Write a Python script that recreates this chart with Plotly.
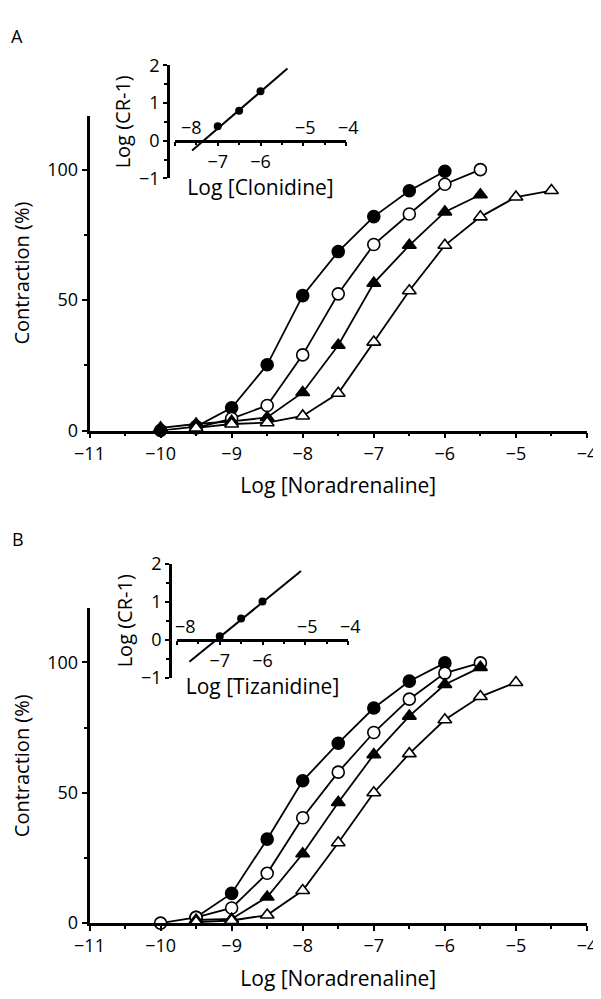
import plotly.graph_objects as go

# ---- data ----
# Panel A: noradrenaline curves (x = log [NA], y = contraction %)
a_ctrl_x = [-10, -9.5, -9, -8.5, -8, -7.5, -7, -6.5, -6]
a_ctrl_y = [0, 1.5, 8.7, 25.2, 51.7, 68.6, 82, 91.9, 99.4]
a_c1_x = [-9.5, -9, -8.5, -8, -7.5, -7, -6.5, -6, -5.5]
a_c1_y = [1, 4.6, 9.6, 29, 52.4, 71.3, 83, 94.4, 100]
a_c2_x = [-10, -9.5, -9, -8.5, -8, -7.5, -7, -6.5, -6, -5.5]
a_c2_y = [1, 2.5, 3.5, 5, 14.6, 32.7, 56.5, 71, 83.8, 90.4]
a_c3_x = [-9.5, -9, -8.5, -8, -7.5, -7, -6.5, -6, -5.5, -5, -4.5]
a_c3_y = [1, 2.5, 3, 5.6, 14.3, 33.9, 53.6, 71, 81.9, 89.5, 92]

# Panel A inset: Schild plot for clonidine
a_schild_x = [-7, -6.5, -6]
a_schild_y = [0.38, 0.79, 1.31]
a_fit_x = [-7.6, -5.37]
a_fit_y = [-0.26, 1.91]

# Panel B: noradrenaline curves
b_ctrl_x = [-9.5, -9, -8.5, -8, -7.5, -7, -6.5, -6]
b_ctrl_y = [2.2, 11.4, 32.2, 54.6, 69, 82.5, 92.8, 99.8]
b_c1_x = [-10, -9.5, -9, -8.5, -8, -7.5, -7, -6.5, -6, -5.5]
b_c1_y = [0, 2.2, 5.8, 19.1, 40.4, 57.9, 73.1, 85.9, 95.9, 99.8]
b_c2_x = [-9.5, -9, -8.5, -8, -7.5, -7, -6.5, -6, -5.5]
b_c2_y = [1.2, 1.6, 10, 26.6, 46.3, 64.6, 79.4, 91.5, 98.1]
b_c3_x = [-9.5, -9, -8.5, -8, -7.5, -7, -6.5, -6, -5.5, -5]
b_c3_y = [0.4, 1, 3.1, 12.5, 30.8, 50, 65, 78, 86.9, 92.3]

# Panel B inset: Schild plot for tizanidine
b_schild_x = [-7, -6.5, -6]
b_schild_y = [0.09, 0.56, 1.01]
b_fit_x = [-7.71, -5.1]
b_fit_y = [-0.58, 1.81]

main_ticks = [-11, -10, -9, -8, -7, -6, -5, -4]
inset_ticks = [-8, -7, -6, -5, -4]
inset_below = ["", "\u22127", "\u22126", "", ""]
inset_above = [(-8, "\u22128"), (-5, "\u22125"), (-4, "\u22124")]

# page body has an 8px margin, so the figure is drawn 8px in from the corner
OFF = 8
W, H = 601 - OFF, 999 - OFF
FONT = "Open Sans"
FS = 18     # tick labels
TFS = 21    # axis titles


def px(x):
    return (x - OFF) / W


def py(y):
    return 1 - (y - OFF) / H


fig = go.Figure()

styles = [
    dict(symbol="circle", color="black"),
    dict(symbol="circle", color="white"),
    dict(symbol="triangle-up", color="black"),
    dict(symbol="triangle-up", color="white"),
]


def add_curves(xs, ys, xa, ya):
    for (x, y), st in zip(zip(xs, ys), styles):
        fig.add_trace(go.Scatter(
            x=x, y=y, mode="lines+markers", xaxis=xa, yaxis=ya,
            line=dict(color="black", width=1.8),
            marker=dict(symbol=st["symbol"], color=st["color"], size=12,
                        line=dict(color="black", width=1.6)),
            cliponaxis=False, showlegend=False))


def add_schild(px_, py_, fx, fy, xa, ya):
    fig.add_trace(go.Scatter(x=fx, y=fy, mode="lines", xaxis=xa, yaxis=ya,
                             line=dict(color="black", width=2),
                             cliponaxis=False, showlegend=False))
    fig.add_trace(go.Scatter(x=px_, y=py_, mode="markers", xaxis=xa, yaxis=ya,
                             marker=dict(color="black", size=8),
                             cliponaxis=False, showlegend=False))


add_curves([a_ctrl_x, a_c1_x, a_c2_x, a_c3_x], [a_ctrl_y, a_c1_y, a_c2_y, a_c3_y], "x", "y")
add_schild(a_schild_x, a_schild_y, a_fit_x, a_fit_y, "x2", "y2")
add_curves([b_ctrl_x, b_c1_x, b_c2_x, b_c3_x], [b_ctrl_y, b_c1_y, b_c2_y, b_c3_y], "x3", "y3")
add_schild(b_schild_x, b_schild_y, b_fit_x, b_fit_y, "x4", "y4")

axis_common = dict(showline=True, linecolor="black", linewidth=2.5, showgrid=False,
                   zeroline=False, ticks="outside", tickcolor="black", tickwidth=2,
                   automargin=False, tickfont=dict(size=FS, color="black"))
minor_half = dict(dtick=0.5, ticks="outside", ticklen=3, tickwidth=2, tickcolor="black")


def main_axes(top, bottom):
    xa = dict(axis_common, range=[-11, -4], tickvals=main_ticks, ticklen=5,
              domain=[px(89.5), px(587)], minor=minor_half,
              title=dict(text="Log [Noradrenaline]", font=dict(size=TFS, color="black")))
    ya = dict(axis_common, range=[0, 120.7], tickvals=[0, 50, 100], ticklen=5,
              domain=[py(bottom), py(top)],
              minor=dict(tickvals=[25, 75], ticks="outside", ticklen=3, tickwidth=2, tickcolor="black"),
              title=dict(text="Contraction (%)", font=dict(size=20, color="black")))
    return xa, ya


def inset_axes(x0, x1, yaxis_x, top, bottom, title):
    d0, d1 = py(bottom), py(top)
    zero_pos = d0 + (d1 - d0) * (0 - (-1)) / 3
    xa = dict(axis_common, range=[-8, -4], tickvals=inset_ticks, ticktext=inset_below,
              ticklen=4, domain=[px(x0), px(x1)], anchor="free", position=zero_pos,
              minor=minor_half, automargin=True,
              title=dict(text=title, standoff=4, font=dict(size=TFS, color="black")))
    ya = dict(axis_common, range=[-1, 2], tickvals=[-1, 0, 1, 2], ticklen=4,
              domain=[d0, d1], anchor="free", position=px(yaxis_x),
              minor=minor_half, automargin=True,
              title=dict(text="Log (CR-1)", standoff=2, font=dict(size=20, color="black")))
    return xa, ya


xa1, ya1 = main_axes(105, 427.7)
xa3, ya3 = main_axes(610, 932.5)
xa2, ya2 = inset_axes(175, 346, 168, 53.3, 169.3, "Log [Clonidine]")
xa4, ya4 = inset_axes(177, 348, 170, 564.3, 681, "Log [Tizanidine]")

xa1["anchor"], ya1["anchor"] = "y", "x"
xa3["anchor"], ya3["anchor"] = "y3", "x3"

annotations = [
    dict(text="A", x=px(17), y=py(23), xref="paper", yref="paper", showarrow=False,
         xanchor="center", yanchor="middle", font=dict(size=FS, color="black")),
    dict(text="B", x=px(18), y=py(539), xref="paper", yref="paper", showarrow=False,
         xanchor="center", yanchor="middle", font=dict(size=FS, color="black")),
]
for xref, yref, shift8 in [("x2", "y2", 16), ("x4", "y4", 8)]:
    for val, txt in inset_above:
        annotations.append(dict(text=txt, x=val, y=0, xref=xref, yref=yref,
                                showarrow=False, yanchor="bottom", yshift=0,
                                xshift=shift8 if val == -8 else 2,
                                font=dict(size=FS, color="black")))

fig.update_layout(
    width=W, height=H,
    margin=dict(l=0, r=0, t=0, b=0),
    paper_bgcolor="white", plot_bgcolor="rgba(0,0,0,0)",
    font=dict(family=FONT, size=FS, color="black"),
    xaxis=xa1, yaxis=ya1,
    xaxis2=xa2, yaxis2=ya2,
    xaxis3=xa3, yaxis3=ya3,
    xaxis4=xa4, yaxis4=ya4,
    annotations=annotations,
)

fig.write_html("out.html")
